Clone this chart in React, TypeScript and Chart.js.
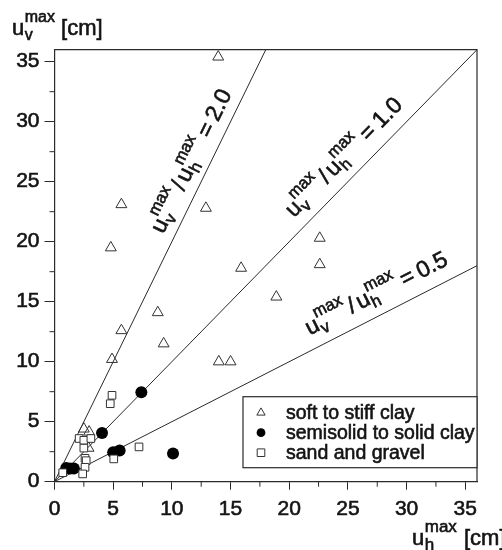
import React, { useEffect, useRef } from 'react';
import { Chart, registerables } from 'chart.js';

Chart.register(...registerables);

const FONT = '"Liberation Sans", Arial, Helvetica, sans-serif';
const INK = '#141414';
const LINE = '#2a2a2a';
const HEAVY = 0.6;

// axis
const axisMax = 36;
const tickStep = 5;

// series: soft to stiff clay (open triangles)
const softClayX = [13.95, 5.7, 4.8, 12.9, 22.6, 22.6, 15.9, 18.9, 8.8, 5.7, 9.3, 4.9, 14.0, 15.0, 2.5, 2.95, 2.9];
const softClayY = [35.4, 23.1, 19.5, 22.8, 20.3, 18.1, 17.8, 15.4, 14.1, 12.6, 11.5, 10.2, 10.0, 10.0, 4.4, 4.15, 2.8];
// series: semisolid to solid clay (filled circles)
const solidClayX = [7.4, 4.05, 5.0, 5.55, 10.1, 1.0, 1.35, 1.65];
const solidClayY = [7.45, 4.05, 2.45, 2.6, 2.35, 1.15, 1.1, 1.1];
// series: sand and gravel (open squares)
const sandX = [4.9, 4.75, 7.2, 5.05, 0.7, 2.1, 2.5, 3.1, 2.5, 2.6, 2.7, 2.6, 2.4];
const sandY = [7.2, 6.5, 2.9, 1.9, 0.75, 3.6, 3.45, 3.6, 2.8, 1.95, 1.75, 1.2, 0.65];

const seriesNames = ['soft to stiff clay', 'semisolid to solid clay', 'sand and gravel'];

// reference lines u_v/u_h = ratio
const ratioValues = [2.0, 1.0, 0.5];
const ratioText = ['2.0', '1.0', '0.5'];
// label placement: start (data x of projection on line), offset above line in px
const ratioLabelStartX = [10.1, 21.2, 22.3];
const ratioLabelOffset = [11, 13, 14];

const zip = (xs: number[], ys: number[]) => xs.map((x, i) => ({ x, y: ys[i] }));

function txt(ctx: CanvasRenderingContext2D, s: string, x: number, y: number) {
  ctx.fillText(s, x, y);
  ctx.strokeText(s, x, y);
}

function drawU(ctx: CanvasRenderingContext2D, x: number, y: number, sub: string, big: number, small: number) {
  ctx.font = `${big}px ${FONT}`;
  txt(ctx, 'u', x, y);
  const uw = ctx.measureText('u').width;
  ctx.font = `${small}px ${FONT}`;
  const sx = x + uw + 0.5;
  txt(ctx, sub, sx, y + small * 0.3);
  txt(ctx, 'max', sx, y - big * 0.56);
  return uw + 0.5 + Math.max(ctx.measureText(sub).width, ctx.measureText('max').width);
}

function drawMarker(ctx: CanvasRenderingContext2D, kind: number, cx: number, cy: number) {
  ctx.beginPath();
  if (kind === 0) {
    const r = 4.8;
    ctx.moveTo(cx, cy - r);
    ctx.lineTo(cx + r * 0.866, cy + r * 0.5);
    ctx.lineTo(cx - r * 0.866, cy + r * 0.5);
    ctx.closePath();
    ctx.fillStyle = '#fff';
    ctx.fill();
    ctx.stroke();
  } else if (kind === 1) {
    ctx.arc(cx, cy, 4.4, 0, Math.PI * 2);
    ctx.fillStyle = '#000';
    ctx.fill();
  } else {
    ctx.rect(cx - 3.8, cy - 3.8, 7.6, 7.6);
    ctx.fillStyle = '#fff';
    ctx.fill();
    ctx.stroke();
  }
}

const decor = {
  id: 'decor',
  afterDatasetsDraw(chart: any) {
    const { ctx, chartArea: a, scales } = chart;
    const xs = scales.x;
    const ys = scales.y;
    ctx.save();
    // frame top / right
    ctx.strokeStyle = LINE;
    ctx.lineWidth = 1.2;
    ctx.beginPath();
    ctx.moveTo(a.left, a.top);
    ctx.lineTo(a.right, a.top);
    ctx.lineTo(a.right, a.bottom);
    ctx.stroke();
    // minor ticks
    ctx.lineWidth = 1;
    ctx.beginPath();
    for (let v = tickStep / 2; v < axisMax; v += tickStep) {
      const px = xs.getPixelForValue(v);
      ctx.moveTo(px, a.bottom);
      ctx.lineTo(px, a.bottom + 5);
      const py = ys.getPixelForValue(v);
      ctx.moveTo(a.left, py);
      ctx.lineTo(a.left - 5, py);
    }
    ctx.stroke();

    // ratio labels
    ctx.fillStyle = INK;
    ctx.strokeStyle = INK;
    ctx.lineWidth = HEAVY;
    ctx.textBaseline = 'alphabetic';
    ctx.textAlign = 'left';
    const ox = xs.getPixelForValue(0);
    const oy = ys.getPixelForValue(0);
    ratioValues.forEach((r, i) => {
      const ex = r >= 1 ? axisMax / r : axisMax;
      const ey = r >= 1 ? axisMax : axisMax * r;
      const px = xs.getPixelForValue(ex);
      const py = ys.getPixelForValue(ey);
      const ang = Math.atan2(py - oy, px - ox);
      const dx = Math.cos(ang);
      const dy = Math.sin(ang);
      const sx = xs.getPixelForValue(ratioLabelStartX[i]);
      const t = (sx - ox) / dx;
      const bx = ox + dx * t + dy * ratioLabelOffset[i];
      const by = oy + dy * t - dx * ratioLabelOffset[i];
      ctx.save();
      ctx.translate(bx, by);
      ctx.rotate(ang);
      let cx = 0;
      cx += drawU(ctx, cx, 0, 'v', 23, 16.5);
      ctx.font = `23px ${FONT}`;
      cx += 3;
      txt(ctx, '/', cx, 0);
      cx += ctx.measureText('/').width + 3;
      cx += drawU(ctx, cx, 0, 'h', 23, 16.5);
      ctx.font = `23px ${FONT}`;
      cx += 5;
      txt(ctx, '=', cx, 0);
      cx += ctx.measureText('=').width + 5;
      txt(ctx, ratioText[i], cx, 0);
      ctx.restore();
    });

    // axis titles
    let tx = a.left - 42.5;
    tx += drawU(ctx, tx, a.top - 15, 'v', 22, 16);
    ctx.font = `22px ${FONT}`;
    txt(ctx, ' [cm]', tx, a.top - 15);

    tx = a.right - 65;
    tx += drawU(ctx, tx, a.bottom + 63, 'h', 22, 17);
    ctx.font = `22px ${FONT}`;
    txt(ctx, ' [cm]', tx + 1, a.bottom + 63);
    ctx.restore();
  },
  afterDraw(chart: any) {
    const { ctx, chartArea: a } = chart;
    ctx.save();
    const w = 234;
    const h = 71;
    const lx = a.right - w;
    const ly = a.bottom - 85;
    ctx.fillStyle = '#fff';
    ctx.fillRect(lx, ly, w, h);
    ctx.strokeStyle = LINE;
    ctx.lineWidth = 1.2;
    ctx.strokeRect(lx, ly, w, h);
    ctx.font = `19.5px ${FONT}`;
    ctx.textBaseline = 'middle';
    ctx.textAlign = 'left';
    seriesNames.forEach((name, i) => {
      const cy = ly + 16 + i * 20;
      ctx.strokeStyle = '#333';
      ctx.lineWidth = 1;
      drawMarker(ctx, i, lx + 18, cy);
      ctx.fillStyle = INK;
      ctx.strokeStyle = INK;
      ctx.lineWidth = HEAVY;
      txt(ctx, name, lx + 43, cy + 1);
    });
    ctx.restore();
  },
};

export default function App() {
  const ref = useRef<HTMLCanvasElement | null>(null);
  useEffect(() => {
    if (!ref.current) return;
    const lineDatasets = ratioValues.map((r) => ({
      label: 'ratio ' + r,
      data: [
        { x: 0, y: 0 },
        { x: r >= 1 ? axisMax / r : axisMax, y: r >= 1 ? axisMax : axisMax * r },
      ],
      showLine: true,
      borderColor: LINE,
      borderWidth: 1,
      pointRadius: 0,
      fill: false,
    }));
    const chart = new Chart(ref.current, {
      type: 'scatter',
      data: {
        datasets: [
          {
            label: seriesNames[2],
            data: zip(sandX, sandY),
            pointStyle: 'rect',
            pointRadius: 5.4,
            backgroundColor: '#fff',
            borderColor: '#333',
            borderWidth: 1,
          },
          {
            label: seriesNames[1],
            data: zip(solidClayX, solidClayY),
            pointStyle: 'circle',
            pointRadius: 6,
            backgroundColor: '#000',
            borderColor: '#000',
            borderWidth: 0,
          },
          {
            label: seriesNames[0],
            data: zip(softClayX, softClayY),
            pointStyle: 'triangle',
            pointRadius: 6.3,
            backgroundColor: 'rgba(255,255,255,0)',
            borderColor: '#333',
            borderWidth: 1,
          },
          ...lineDatasets,
        ] as any,
      },
      options: {
        animation: false,
        responsive: false,
        layout: { padding: { top: 49.7, right: 25, left: 0, bottom: 0 } },
        plugins: { legend: { display: false }, tooltip: { enabled: false } },
        scales: {
          x: {
            type: 'linear',
            min: 0,
            max: axisMax,
            afterFit: (s: any) => {
              s.height = 68.3;
            },
            ticks: {
              stepSize: tickStep,
              includeBounds: false,
              color: INK,
              font: { size: 21, family: FONT },
              padding: 7,
              maxRotation: 0,
              textStrokeColor: INK,
              textStrokeWidth: HEAVY,
            },
            grid: { drawOnChartArea: false, drawTicks: true, tickLength: 8, color: LINE, lineWidth: 1 },
            border: { display: true, color: LINE, width: 1.2 },
          },
          y: {
            type: 'linear',
            min: 0,
            max: axisMax,
            afterFit: (s: any) => {
              s.width = 54.5;
            },
            ticks: {
              stepSize: tickStep,
              includeBounds: false,
              color: INK,
              font: { size: 21, family: FONT },
              padding: 5,
              textStrokeColor: INK,
              textStrokeWidth: HEAVY,
            },
            grid: { drawOnChartArea: false, drawTicks: true, tickLength: 10, color: LINE, lineWidth: 1 },
            border: { display: true, color: LINE, width: 1.2 },
          },
        },
      } as any,
      plugins: [decor],
    });
    return () => chart.destroy();
  }, []);
  return (
    <div style={{ position: 'absolute', left: 0, top: 0, width: 502, height: 550, background: '#fff' }}>
      <canvas ref={ref} width={502} height={550} style={{ width: 502, height: 550, display: 'block' }} />
    </div>
  );
}
